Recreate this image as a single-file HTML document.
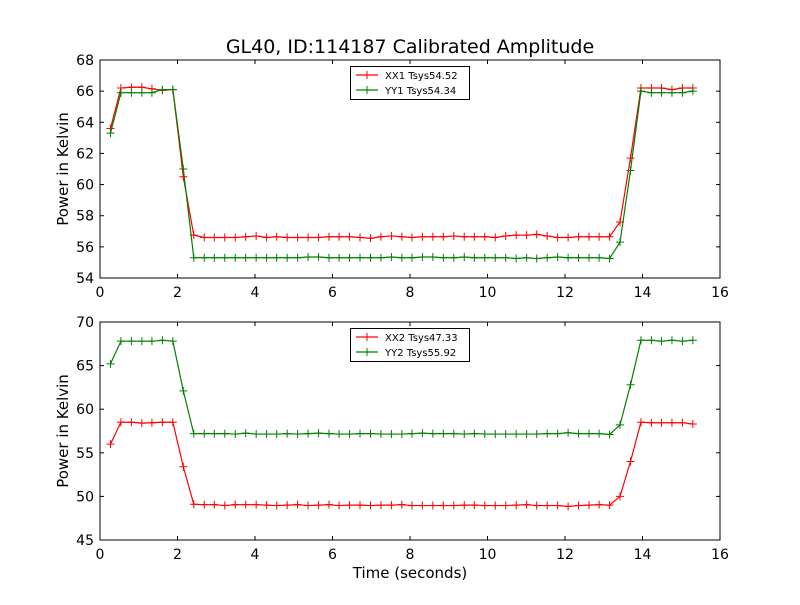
<!DOCTYPE html>
<html><head><meta charset="utf-8"><style>
body{margin:0;background:#fff}
svg text{font-family:"DejaVu Sans","Liberation Sans",sans-serif}
</style></head><body>
<svg id="c" width="800" height="600" xmlns="http://www.w3.org/2000/svg"></svg>
<script>
const times=[0.27,0.54,0.81,1.08,1.34,1.61,1.88,2.15,2.42,2.69,2.95,3.22,3.49,3.76,4.03,4.30,4.56,4.83,5.10,5.37,5.64,5.91,6.17,6.44,6.71,6.98,7.25,7.52,7.79,8.05,8.32,8.59,8.86,9.13,9.40,9.66,9.93,10.20,10.47,10.74,11.01,11.27,11.54,11.81,12.08,12.35,12.62,12.88,13.15,13.42,13.69,13.96,14.23,14.49,14.76,15.03,15.30];
const xx1=[63.6,66.2,66.25,66.25,66.15,66.05,66.1,60.5,56.75,56.6,56.6,56.6,56.6,56.65,56.7,56.6,56.65,56.6,56.6,56.6,56.6,56.65,56.65,56.65,56.6,56.55,56.65,56.7,56.65,56.6,56.65,56.65,56.65,56.7,56.65,56.65,56.65,56.6,56.7,56.75,56.75,56.8,56.7,56.6,56.6,56.65,56.65,56.65,56.65,57.6,61.7,66.2,66.2,66.2,66.1,66.2,66.2];
const yy1=[63.3,65.9,65.9,65.9,65.9,66.1,66.1,61.0,55.3,55.3,55.3,55.3,55.3,55.3,55.3,55.3,55.3,55.3,55.3,55.35,55.35,55.3,55.3,55.3,55.3,55.3,55.3,55.35,55.3,55.3,55.35,55.35,55.3,55.3,55.35,55.3,55.3,55.3,55.3,55.25,55.3,55.25,55.3,55.35,55.3,55.3,55.3,55.3,55.25,56.3,60.9,66.0,65.9,65.9,65.9,65.9,66.0];
const xx2=[56.0,58.5,58.5,58.4,58.45,58.5,58.5,53.4,49.1,49.05,49.05,48.95,49.05,49.05,49.05,49.0,48.95,49.0,49.05,48.95,49.0,49.05,48.95,49.0,49.0,48.95,49.0,49.0,49.05,48.95,48.95,48.95,48.95,48.95,49.0,49.0,48.95,48.95,48.95,49.0,49.05,48.95,48.95,48.95,48.85,48.95,49.0,49.05,49.0,50.0,54.0,58.5,58.45,58.45,58.45,58.45,58.3];
const yy2=[65.2,67.8,67.8,67.8,67.8,67.9,67.8,62.1,57.2,57.2,57.2,57.2,57.15,57.25,57.15,57.15,57.15,57.2,57.15,57.2,57.25,57.2,57.15,57.15,57.2,57.2,57.15,57.15,57.15,57.2,57.25,57.2,57.2,57.2,57.15,57.2,57.15,57.15,57.15,57.15,57.15,57.15,57.2,57.2,57.3,57.2,57.2,57.2,57.1,58.2,62.8,67.9,67.9,67.8,67.9,67.8,67.9];
const xTicks=[0,2,4,6,8,10,12,14,16];
const yTicksTop=[54,56,58,60,62,64,66,68];
const yTicksBot=[45,50,55,60,65,70];
const legendTop=["XX1 Tsys54.52","YY1 Tsys54.34"];
const legendBot=["XX2 Tsys47.33","YY2 Tsys55.92"];

const NS="http://www.w3.org/2000/svg";
const svg=document.getElementById('c');
function mk(t,a,p){const e=document.createElementNS(NS,t);for(const k in a)e.setAttribute(k,a[k]);(p||svg).appendChild(e);return e;}
const X0=100,X1=720;
function xs(v){return X0+(v-0)/(16-0)*(X1-X0);}

function panel(name,top,bot,ymin,ymax,yTicks,s1,s2,leg){
  const g=mk('g',{});
  
  
  const ys=v=>bot-(v-ymin)/(ymax-ymin)*(bot-top);
  xTicks.forEach(t=>{
    const x=xs(t);
    mk('line',{x1:x,x2:x,y1:bot,y2:bot-4,stroke:'#000'},g);
    mk('line',{x1:x,x2:x,y1:top,y2:top+4,stroke:'#000'},g);
    const tx=mk('text',{x:x,y:bot+19,'text-anchor':'middle','font-size':'14'},g);
    tx.textContent=t;
    
    
  });
  yTicks.forEach(t=>{
    const y=ys(t);
    mk('line',{x1:X0,x2:X0+4,y1:y,y2:y,stroke:'#000'},g);
    mk('line',{x1:X1,x2:X1-4,y1:y,y2:y,stroke:'#000'},g);
    const tx=mk('text',{x:X0-6,y:y+5,'text-anchor':'end','font-size':'14'},g);
    tx.textContent=t;
    
    
  });
  const yl=mk('text',{x:0,y:0,'text-anchor':'middle','font-size':'15',transform:`translate(68,${(top+bot)/2}) rotate(-90)`},g);
  yl.textContent='Power in Kelvin';
  
  
  [[s1,'#ff0000'],[s2,'#008000']].forEach(([s,c],k)=>{
    const sg=mk('g',{},g);
    
    
    mk('polyline',{points:s.map((v,i)=>xs(times[i])+','+ys(v)).join(' '),fill:'none',stroke:c,'stroke-width':1.2},sg);
    s.forEach((v,i)=>{
      const x=xs(times[i]),y=ys(v);
      const p=mk('path',{d:`M${x-4},${y}H${x+4}M${x},${y-4}V${y+4}`,stroke:c,'stroke-width':1},sg);
      
      
    });
  });
  mk('rect',{x:X0,y:top,width:X1-X0,height:bot-top,fill:'none',stroke:'#000','stroke-width':1},g);
  const lg=mk('g',{},g);
  
  
  const ly=top+6;
  mk('rect',{x:350.5,y:ly+0.5,width:119,height:33,fill:'#fff',stroke:'#000'},lg);
  ['#ff0000','#008000'].forEach((c,k)=>{
    const yy=ly+9+k*15;
    mk('line',{x1:356,x2:378,y1:yy,y2:yy,stroke:c,'stroke-width':1.2},lg);
    mk('path',{d:`M363,${yy}h8M367,${yy-4}v8`,stroke:c},lg);
    const t=mk('text',{x:385,y:yy+4,'font-size':'10'},lg);
    t.textContent=leg[k];
    
    
  });
}
panel('top-panel',60,278,54,68,yTicksTop,xx1,yy1,legendTop);
panel('bottom-panel',322,540,45,70,yTicksBot,xx2,yy2,legendBot);
const title=mk('text',{x:410,y:53,'text-anchor':'middle','font-size':'19'});
title.textContent='GL40, ID:114187 Calibrated Amplitude';


const xl=mk('text',{x:410,y:578,'text-anchor':'middle','font-size':'15'});
xl.textContent='Time (seconds)';


</script>
</body></html>
